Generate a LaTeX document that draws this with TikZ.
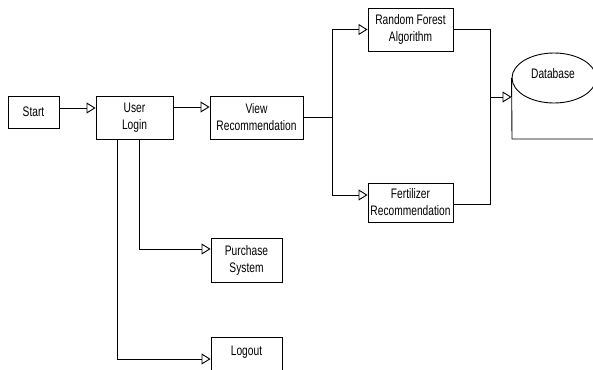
\documentclass[tikz,border=0pt]{standalone}
\usepackage{fontspec}
\setmainfont[FakeStretch=0.74]{Liberation Sans}
\usetikzlibrary{arrows.meta,shapes.geometric}
\begin{document}
\begin{tikzpicture}[x=1pt,y=-1pt,
  line width=0.9pt,
  every node/.style={font=\fontsize{13.8}{17}\selectfont, align=center, inner sep=0pt},
  box/.style={draw, rectangle, minimum width=#1},
  arr/.style={-{Triangle[open,length=9pt,width=11pt,fill=white]}},
  ]
\useasboundingbox (0,0) rectangle (593,369);
\begin{scope}
\clip (0,0) rectangle (593,369);
\node[box=51pt, minimum height=32pt] (start) at (33.5,112) {Start};
\node[box=77pt, minimum height=43pt] (login) at (134.5,117.5) {User\\Login};
\node[box=93pt, minimum height=43pt] (view) at (256.5,117.5) {View\\Recommendation};
\node[box=85pt, minimum height=43pt] (rf) at (410.5,29.5) {Random Forest\\Algorithm};
\node[box=85pt, minimum height=39pt] (fert) at (410.5,202.5) {Fertilizer\\Recommendation};
\node[box=71pt, minimum height=44pt] (purch) at (246.5,260) {Purchase\\System};
\node[box=71pt, minimum height=36pt] (logout) at (246.5,355) {};
\node (logouttext) at (246.5,352) {Logout};
\node[draw, ellipse, minimum width=84pt, minimum height=50pt, fill=white] (db) at (554,78) {};
\node (dbtext) at (553,74) {Database};
\draw (db.west) -- (512,139) -- (600,139);

\coordinate (s1) at ([yshift=4pt]start.east);
\draw[arr] (s1) -- (login.west |- s1);
\coordinate (l1) at ([yshift=10.5pt]login.east);
\draw[arr] (l1) -- (view.west |- l1);

\coordinate (j1) at (332,117.5);
\draw (view.east) -- (j1);
\draw[arr] (j1) |- (rf.west);
\draw[arr] (j1) |- ([yshift=7.5pt]fert.west);

\coordinate (j2) at (490,97);
\draw (rf.east) -| (j2);
\draw ([yshift=-1.5pt]fert.east) -| (j2);
\draw[arr] (j2) -- (db.west |- j2);

\draw[arr] ([xshift=4.5pt]login.south) |- ([yshift=11pt]purch.west);
\draw[arr] ([xshift=-17.5pt]login.south) |- ([yshift=-4pt]logout.west);
\end{scope}
\end{tikzpicture}
\end{document}
